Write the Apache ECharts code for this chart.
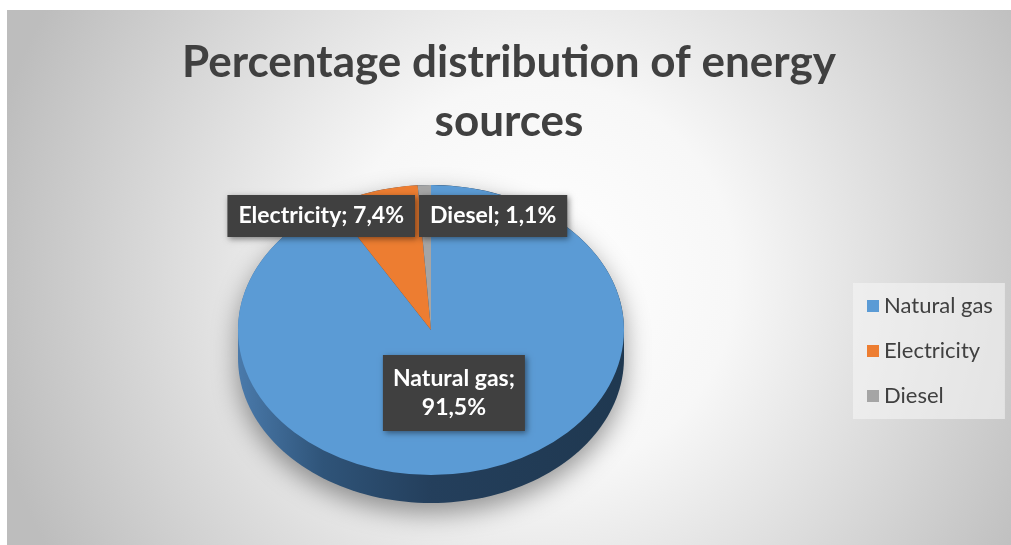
<!DOCTYPE html>
<html>
<head>
<meta charset="utf-8">
<script src="https://cdn.jsdelivr.net/npm/echarts@6/dist/echarts.min.js"></script>
<style>
  html, body { margin: 0; padding: 0; background: #fff; }
  #chart { position: absolute; left: 7px; top: 10px; width: 1004px; height: 535px; }
</style>
</head>
<body>
<div id="chart"></div>
<script>
const categories = ["Natural gas", "Electricity", "Diesel"];
const values = [91.5, 7.4, 1.1];
const labelTexts = ["Natural gas;\n91,5%", "Electricity; 7,4%", "Diesel; 1,1%"];
const sliceColors = ["#5b9bd5", "#ed7d31", "#a5a5a5"];

// pie geometry (flattened disc)
const CX = 424, CY = 320, RX = 193, RY = 145, DEPTH = 28;
const total = values.reduce((a, b) => a + b, 0);

const angleAt = (v) => -Math.PI / 2 + (v / total) * Math.PI * 2;

const labelStyle = {
  fill: "#fff",
  fontFamily: "Lato",
  fontWeight: "bold",
  fontSize: 23,
  lineHeight: 29,
  backgroundColor: "#404040",
  shadowBlur: 6,
  shadowColor: "rgba(0,0,0,0.45)",
  shadowOffsetX: 2,
  shadowOffsetY: 2,
  verticalAlign: "middle",
};

const labelFor = (idx, mid) => {
  if (idx === 0) {
    const f = 0.45;
    return {
      type: "text",
      z2: 50,
      x: CX + Math.cos(mid) * RX * f,
      y: CY + Math.sin(mid) * RY * f,
      style: Object.assign({}, labelStyle, {
        text: labelTexts[idx],
        align: "center",
        padding: [9, 10, 9, 10],
      }),
    };
  }
  // small slices: labels sit just below the top rim, on either side
  return {
    type: "text",
    z2: 50,
    x: idx === 1 ? CX - 16 : CX - 12,
    y: CY - RY + 31,
    style: Object.assign({}, labelStyle, {
      text: labelTexts[idx],
      align: idx === 1 ? "right" : "left",
      lineHeight: 26,
      padding: [8, 11, 8, 11],
    }),
  };
};

const sliceRender = (idx) => (params, api) => {
  const before = values.slice(0, idx).reduce((a, b) => a + b, 0);
  const a0 = angleAt(before);
  const a1 = angleAt(before + api.value(0));
  return {
    type: "group",
    children: [
      {
        type: "sector",
        x: CX,
        y: CY,
        scaleY: RY / RX,
        shape: { cx: 0, cy: 0, r0: 0, r: RX, startAngle: a0, endAngle: a1, clockwise: true },
        style: { fill: sliceColors[idx] },
      },
      labelFor(idx, (a0 + a1) / 2),
    ],
  };
};

const wallRender = () => {
  const pts = [];
  for (let i = 0; i <= 90; i++) {
    const t = (i / 90) * Math.PI;
    pts.push([CX + RX * Math.cos(t), CY + RY * Math.sin(t) + DEPTH]);
  }
  for (let i = 0; i <= 90; i++) {
    const t = Math.PI + (i / 90) * Math.PI;
    pts.push([CX + RX * Math.cos(t), CY + RY * Math.sin(t)]);
  }
  return {
    type: "polygon",
    shape: { points: pts },
    style: {
      fill: new echarts.graphic.LinearGradient(0, 0, 1, 0, [
        { offset: 0, color: "#4a7aab" },
        { offset: 0.22, color: "#2f5479" },
        { offset: 0.5, color: "#243f5c" },
        { offset: 1, color: "#1f3850" },
      ]),
      shadowBlur: 26,
      shadowColor: "rgba(0,0,0,0.4)",
      shadowOffsetY: 10,
    },
  };
};

const chart = echarts.init(document.getElementById("chart"));

chart.setOption({
  animation: false,
  backgroundColor: {
    type: "radial",
    x: 0.53,
    y: 0.5,
    r: 1.05,
    colorStops: [
      { offset: 0, color: "#ffffff" },
      { offset: 0.35, color: "#f7f7f7" },
      { offset: 1, color: "#bdbdbd" },
    ],
  },
  title: {
    text: "Percentage distribution of energy\nsources",
    left: "center",
    top: 23,
    padding: 0,
    textStyle: {
      fontFamily: "Lato",
      fontWeight: "bold",
      fontSize: 44,
      lineHeight: 59,
      color: "#404040",
    },
  },
  legend: {
    orient: "vertical",
    left: 846,
    top: 273,
    data: categories,
    icon: "rect",
    itemWidth: 12,
    itemHeight: 12,
    itemGap: 23,
    padding: [12, 12, 12, 14],
    backgroundColor: "rgba(245,245,245,0.6)",
    selectedMode: false,
    textStyle: { fontFamily: "Lato", fontSize: 22, lineHeight: 20, color: "#404040" },
  },
  series: [
    {
      type: "custom",
      name: "wall",
      coordinateSystem: "none",
      silent: true,
      data: [total],
      renderItem: wallRender,
    },
    ...categories.map((name, idx) => ({
      type: "custom",
      name,
      coordinateSystem: "none",
      silent: true,
      itemStyle: { color: sliceColors[idx] },
      data: [values[idx]],
      renderItem: sliceRender(idx),
    })),
  ],
});
</script>
</body>
</html>
